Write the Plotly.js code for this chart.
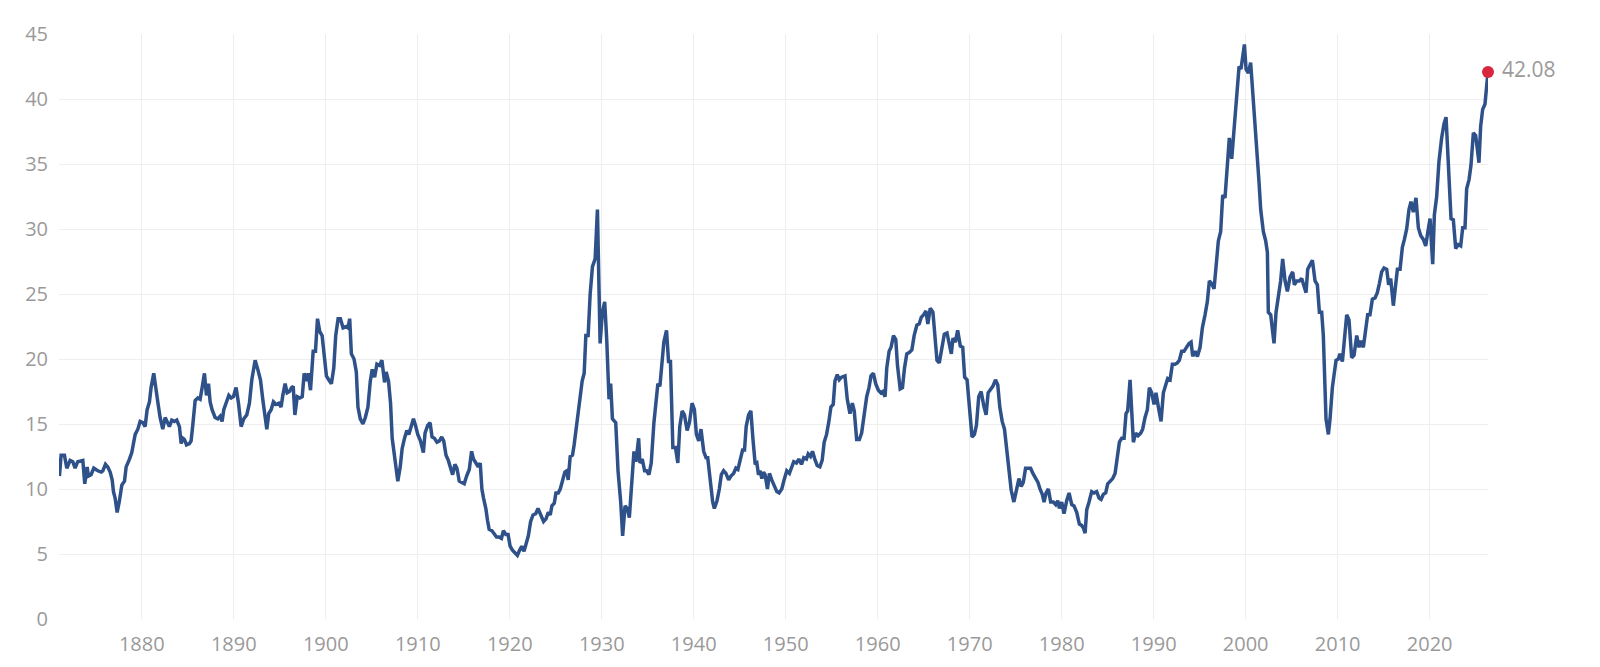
<!DOCTYPE html>
<html>
<head>
<meta charset="utf-8">
<script src="https://cdn.plot.ly/plotly-3.0.1.min.js"></script>
<style>
  html, body { margin: 0; padding: 0; background: #fff; }
  #chart { width: 1600px; height: 667px; }
</style>
</head>
<body>
<div id="chart"></div>
<script>
// Shiller P/E (CAPE), decimal years
var anos1871 = [1871.05,1871.23,1871.59,1871.85,1872.21,1872.5,1872.75,1873.04,1873.59,1873.8,
  1874.06,1874.2,1874.49,1874.78,1875.22,1875.58,1875.76,1876.05,1876.3,1876.56,
  1876.78,1876.92,1877.1,1877.32,1877.57,1877.83,1878.12,1878.3,1878.66,1878.91,
  1879.28,1879.57,1879.82,1880.11,1880.36,1880.58,1880.83,1881.01,1881.3,1881.49,
  1881.74,1881.99,1882.28,1882.54,1882.72,1883.0,1883.26,1883.55,1883.8,1884.09,
  1884.28,1884.46,1884.64,1884.86,1885.18,1885.36,1885.54,1885.8,1886.09,1886.34,
  1886.56,1886.81,1887.03,1887.25,1887.43,1887.64,1887.97,1888.26,1888.51,1888.73,
  1888.91,1889.17,1889.46,1889.71,1889.96,1890.25,1890.51,1890.8,1891.09,1891.41,
  1891.7,1891.96,1892.32,1892.61,1892.9,1893.15,1893.41,1893.59,1893.8,1894.06,
  1894.31,1894.6,1894.89,1895.14,1895.33,1895.58,1895.8,1896.05];
var cape1871 = [11.0,12.6,12.6,11.6,12.2,12.1,11.6,12.1,12.2,10.4,
  11.7,11.0,11.1,11.6,11.4,11.3,11.4,11.9,11.7,11.3,
  10.7,9.8,9.3,8.2,9.1,10.3,10.6,11.7,12.3,12.8,
  14.2,14.6,15.2,15.1,14.8,16.1,16.7,17.8,18.9,17.7,
  16.7,15.5,14.6,15.5,15.2,14.8,15.3,15.2,15.3,14.8,
  13.5,13.9,13.8,13.4,13.5,13.7,14.9,16.8,17.0,16.9,
  17.8,18.9,17.2,18.1,16.7,16.1,15.5,15.4,15.6,15.2,
  16.1,16.7,17.2,17.0,17.1,17.8,16.6,14.8,15.4,15.7,
  16.6,18.4,19.9,19.2,18.4,16.9,15.4,14.6,15.8,16.1,
  16.7,16.5,16.6,16.3,17.2,18.1,17.4,17.5];

var anos1896 = [1896.28,1896.46,1896.64,1896.9,1897.18,1897.44,1897.65,1897.91,1898.09,1898.34,
  1898.63,1898.88,1899.1,1899.35,1899.6,1899.82,1900.07,1900.32,1900.61,1900.87,
  1901.08,1901.34,1901.59,1901.88,1902.24,1902.42,1902.6,1902.78,1903.07,1903.32,
  1903.5,1903.75,1904.04,1904.3,1904.58,1904.84,1905.05,1905.31,1905.56,1905.85,
  1906.1,1906.39,1906.57,1906.82,1907.04,1907.22,1907.47,1907.65,1907.83,1908.09,
  1908.3,1908.56,1908.81,1909.03,1909.28,1909.53,1909.75,1910.0,1910.29,1910.61,
  1910.79,1911.08,1911.34,1911.55,1911.81,1912.09,1912.35,1912.6,1912.82,1913.07,
  1913.32,1913.54,1913.79,1914.04,1914.26,1914.51,1914.77,1915.05,1915.31,1915.6,
  1915.85,1916.06,1916.32,1916.57,1916.79,1916.97,1917.15,1917.4,1917.58,1917.76,
  1918.05,1918.3,1918.56,1918.84,1919.1,1919.31,1919.57,1919.82,1920.04,1920.29,
  1920.54,1920.83,1921.08,1921.3,1921.55,1921.81,1922.02,1922.27,1922.53,1922.82,
  1923.07];
var cape1896 = [17.8,17.9,15.7,17.1,17.0,17.1,18.9,18.3,18.9,17.6,
  20.6,20.6,23.1,22.1,21.8,20.4,18.7,18.4,18.1,19.3,
  21.8,23.1,23.1,22.4,22.5,22.4,23.1,20.4,20.0,19.0,
  16.3,15.4,15.0,15.5,16.3,18.3,19.2,18.6,19.6,19.5,
  19.9,18.2,19.0,18.3,16.6,13.9,12.6,11.4,10.6,11.7,
  13.1,13.9,14.5,14.2,14.9,15.4,14.9,14.2,13.7,12.8,
  14.3,14.9,15.1,14.0,13.9,13.6,13.7,14.0,13.7,12.6,
  12.2,11.7,11.1,11.9,11.6,10.6,10.5,10.4,11.0,11.5,
  12.9,12.3,12.0,11.7,12.0,10.0,9.3,8.5,7.6,6.9,
  6.8,6.5,6.3,6.3,6.2,6.8,6.5,6.5,5.6,5.3,
  5.1,4.9,5.3,5.6,5.2,5.9,6.4,7.5,8.0,8.1,
  8.5];

var anos1923 = [1923.68,1923.94,1924.19,1924.4,1924.58,1924.84,1925.02,1925.27,1925.49,1925.74,
  1925.99,1926.21,1926.35,1926.57,1926.82,1927.0,1927.18,1927.44,1927.65,1927.87,
  1928.09,1928.27,1928.52,1928.74,1928.99,1929.28,1929.53,1929.71,1929.82,1930.07,
  1930.32,1930.54,1930.79,1930.97,1931.16,1931.52,1931.77,1932.06,1932.27,1932.53,
  1932.78,1933.0,1933.25,1933.5,1933.72,1934.01,1934.15,1934.4,1934.66,1934.87,
  1935.13,1935.38,1935.67,1935.92,1936.1,1936.32,1936.57,1936.75,1937.04,1937.26,
  1937.47,1937.73,1938.01,1938.27,1938.48,1938.74,1938.99,1939.28,1939.53,1939.82,
  1940.07,1940.29,1940.54,1940.79,1941.08,1941.34,1941.52,1941.8,1942.06,1942.24,
  1942.53,1942.78,1943.0,1943.25,1943.5,1943.79,1944.04,1944.33,1944.58,1944.8,
  1945.05,1945.31,1945.52,1945.7,1945.96,1946.21,1946.43,1946.68,1946.86,1947.04,
  1947.22,1947.4,1947.58,1947.76,1948.01,1948.23,1948.48,1948.74,1949.03,1949.28,
  1949.57,1949.82,1950.11,1950.4];
var cape1923 = [7.5,7.7,8.2,8.0,8.7,8.9,9.7,9.7,10.0,10.8,
  11.3,11.4,10.7,12.5,12.6,13.4,14.5,16.0,17.4,18.3,
  18.9,21.8,21.8,25.0,27.1,27.7,31.5,26.0,21.2,23.6,
  24.4,21.5,16.9,18.1,15.4,15.1,11.4,9.0,6.4,8.7,
  8.5,7.8,10.5,12.9,12.1,13.9,12.0,12.3,11.4,11.4,
  11.1,12.0,15.1,16.6,18.1,17.9,19.9,21.3,22.2,19.8,
  19.8,13.2,13.2,12.0,14.8,16.0,15.7,14.5,15.1,16.6,
  16.1,14.2,13.7,14.6,12.9,12.4,12.4,10.5,9.0,8.5,
  9.1,10.0,11.1,11.4,11.2,10.7,11.0,11.2,11.6,11.5,
  12.3,13.0,13.0,14.8,15.7,16.0,13.9,11.9,12.0,11.1,
  11.4,10.8,11.3,11.1,10.0,11.2,10.7,10.2,9.8,9.7,
  10.0,10.7,11.4,11.2];

var anos1950 = [1950.87,1951.16,1951.42,1951.71,1951.96,1952.25,1952.44,1952.69,1952.91,1953.16,
  1953.42,1953.71,1953.96,1954.18,1954.44,1954.69,1954.91,1955.16,1955.35,1955.6,
  1955.82,1956.07,1956.44,1956.69,1956.98,1957.24,1957.45,1957.71,1958.0,1958.25,
  1958.51,1958.8,1959.05,1959.27,1959.53,1959.78,1960.07,1960.33,1960.55,1960.8,
  1960.98,1961.24,1961.45,1961.71,1961.96,1962.15,1962.44,1962.69,1962.91,1963.16,
  1963.42,1963.71,1963.96,1964.25,1964.51,1964.73,1964.98,1965.24,1965.45,1965.71,
  1966.0,1966.18,1966.44,1966.69,1966.98,1967.24,1967.53,1967.78,1968.0,1968.18,
  1968.44,1968.69,1968.98,1969.24,1969.45,1969.71,1970.0,1970.25,1970.51,1970.73,
  1970.98,1971.24,1971.53,1971.78,1972.0,1972.25,1972.51,1972.8,1973.05,1973.27,
  1973.53,1973.78,1974.0,1974.25,1974.51,1974.8,1975.05,1975.35,1975.6,1975.82,
  1976.07,1976.33,1976.62,1976.87,1977.16,1977.42,1977.64,1977.89];
var cape1950 = [12.1,12.0,12.3,11.9,12.4,12.3,12.7,12.5,12.9,12.3,
  11.8,11.7,12.2,13.6,14.2,15.2,16.3,16.5,18.3,18.8,
  18.4,18.6,18.7,16.9,15.8,16.6,16.0,13.8,13.8,14.3,
  15.7,17.1,17.8,18.7,18.9,18.1,17.6,17.4,17.5,17.1,
  19.3,20.6,20.9,21.8,21.5,19.5,17.7,17.8,19.3,20.4,
  20.5,20.7,21.8,22.6,22.7,23.2,23.4,23.7,22.7,23.9,
  23.6,22.1,19.9,19.7,21.1,21.9,22.0,21.2,20.4,21.6,
  21.3,22.2,21.0,20.9,18.6,18.4,16.0,14.0,14.2,14.9,
  17.1,17.5,16.4,15.7,17.4,17.6,17.9,18.4,18.0,16.3,
  15.2,14.6,13.1,12.0,9.9,9.0,9.7,10.8,10.2,10.5,
  11.6,11.6,11.6,11.2,10.8,10.5,10.0,9.6];

var anos1978 = [1978.08,1978.3,1978.55,1978.8,1979.09,1979.35,1979.57,1979.75,1980.0,1980.25,
  1980.54,1980.8,1981.09,1981.34,1981.63,1981.92,1982.17,1982.36,1982.54,1982.72,
  1982.97,1983.26,1983.51,1983.8,1984.06,1984.28,1984.53,1984.78,1985.0,1985.33,
  1985.54,1985.8,1986.05,1986.27,1986.52,1986.78,1986.99,1987.17,1987.43,1987.64,
  1987.79,1988.04,1988.3,1988.59,1988.8,1989.06,1989.31,1989.53,1989.78,1990.04,
  1990.25,1990.51,1990.8,1991.05,1991.3,1991.52,1991.78,1992.03,1992.32,1992.57,
  1992.79,1993.04,1993.3,1993.59,1993.84,1994.06,1994.24,1994.49,1994.75,1995.04,
  1995.29,1995.58,1995.83,1996.05,1996.3,1996.56,1996.78,1997.03,1997.28,1997.5,
  1997.75,1998.01,1998.22,1998.48,1998.73,1999.02,1999.28,1999.49,1999.67,1999.86,
  2000.04,2000.29,2000.54,2000.76,2000.94,2001.2,2001.45,2001.63,2001.92,2002.17,
  2002.36,2002.46,2002.72,2002.93,2003.08,2003.3,2003.55,2003.8,2004.02,2004.28,
  2004.53];
var cape1978 = [9.0,9.7,10.0,9.0,9.0,8.8,9.1,8.5,9.0,8.1,
  9.1,9.7,8.8,8.7,8.2,7.3,7.2,7.0,6.6,8.4,
  9.0,9.8,9.7,9.8,9.3,9.2,9.6,9.7,10.4,10.7,
  10.8,11.2,12.3,13.6,13.9,13.9,15.8,16.0,18.4,14.6,
  13.6,14.3,14.1,14.3,14.6,15.5,16.1,17.8,17.4,16.5,
  17.4,16.3,15.2,17.4,18.1,18.5,18.4,19.6,19.6,19.7,
  19.9,20.6,20.6,20.9,21.2,21.3,20.2,20.6,20.2,20.9,
  22.4,23.4,24.4,26.0,25.8,25.4,27.5,29.1,29.8,32.6,
  32.4,34.9,37.0,35.4,37.5,40.5,42.5,42.3,43.1,44.2,
  42.3,42.0,42.8,40.7,38.1,35.8,33.6,31.5,29.8,29.1,
  28.2,23.6,23.4,22.1,21.2,23.6,24.8,26.0,27.7,26.0,
  25.2];

var anos2004 = [2004.82,2005.11,2005.29,2005.54,2005.83,2006.09,2006.34,2006.56,2006.74,2006.99,
  2007.25,2007.54,2007.79,2008.01,2008.26,2008.44,2008.62,2008.73,2008.99,2009.17,
  2009.42,2009.64,2009.82,2010.07,2010.25,2010.51,2010.72,2010.98,2011.23,2011.52,
  2011.78,2012.07,2012.32,2012.54,2012.79,2013.04,2013.26,2013.51,2013.77,2014.06,
  2014.31,2014.53,2014.78,2015.04,2015.33,2015.54,2015.76,2016.05,2016.23,2016.49,
  2016.78,2017.03,2017.25,2017.5,2017.75,2017.97,2018.22,2018.51,2018.77,2019.02,
  2019.31,2019.57,2019.78,2020.04,2020.33,2020.51,2020.76,2021.01,2021.3,2021.56,
  2021.78,2022.03,2022.32,2022.57,2022.83,2023.12,2023.37,2023.59,2023.84,2024.02,
  2024.28,2024.49,2024.75,2025.0,2025.18,2025.36,2025.54,2025.76,2026.01,2026.12,
  2026.34];
var cape2004 = [26.3,26.7,25.7,26.0,26.0,26.2,25.6,25.1,26.9,27.3,
  27.6,26.0,25.7,23.6,23.6,21.8,18.7,15.4,14.2,15.4,
  17.8,19.0,19.9,20.0,20.4,19.8,21.5,23.4,23.0,20.1,
  20.3,21.8,20.9,21.4,20.9,22.1,23.4,23.4,24.6,24.7,
  25.1,25.8,26.7,27.0,26.9,25.7,26.2,24.1,25.4,26.9,
  26.9,28.6,29.2,30.0,31.5,32.1,31.3,32.4,30.1,29.5,
  29.2,28.7,29.7,30.8,27.3,31.1,32.5,35.2,37.0,38.1,
  38.6,34.9,30.8,30.7,28.5,28.8,28.7,30.1,30.1,33.1,
  33.8,34.9,37.4,37.2,36.1,35.1,37.9,39.2,39.6,40.7,
  42.08];

var anosTicks = [1880, 1890, 1900, 1910, 1920, 1930, 1940, 1950, 1960, 1970, 1980, 1990, 2000, 2010, 2020];
var capeTicks = [0, 5, 10, 15, 20, 25, 30, 35, 40, 45];

var anos = anos1871.concat(anos1896, anos1923, anos1950, anos1978, anos2004);
var cape = cape1871.concat(cape1896, cape1923, cape1950, cape1978, cape2004);

var ultimoAno = anos[anos.length - 1];
var ultimoValor = cape[cape.length - 1];

var linha = {
  x: anos, y: cape,
  type: 'scatter',
  mode: 'lines',
  line: {color: '#2f5189', width: 3.5},
  hoverinfo: 'skip'
};

var ponto = {
  x: [ultimoAno], y: [ultimoValor],
  type: 'scatter',
  mode: 'markers+text',
  marker: {color: '#d7263d', size: 12},
  text: ['\u00a0' + ultimoValor.toFixed(2)],
  textposition: 'middle right',
  textfont: {family: 'Open Sans, sans-serif', size: 21, color: '#9a9a9a'},
  cliponaxis: false,
  hoverinfo: 'skip'
};

var layout = {
  width: 1600,
  height: 667,
  margin: {l: 59, r: 112, t: 34, b: 48},
  paper_bgcolor: '#ffffff',
  plot_bgcolor: '#ffffff',
  showlegend: false,
  xaxis: {
    range: [1871.0, ultimoAno],
    tickmode: 'array',
    tickvals: anosTicks,
    ticktext: anosTicks.map(String),
    showgrid: true,
    gridcolor: '#eeeeee',
    gridwidth: 1,
    zeroline: false,
    showline: false,
    ticks: '',
    ticklabelstandoff: 11,
    tickfont: {family: 'Open Sans, sans-serif', size: 20, color: '#9a9a9a'},
    fixedrange: true
  },
  yaxis: {
    range: [0, 45],
    tickmode: 'array',
    tickvals: capeTicks,
    ticktext: capeTicks.map(String),
    showgrid: true,
    gridcolor: '#eeeeee',
    gridwidth: 1,
    zeroline: false,
    showline: false,
    ticks: '',
    ticklabelstandoff: 10,
    tickfont: {family: 'Open Sans, sans-serif', size: 20, color: '#9a9a9a'},
    fixedrange: true
  }
};

Plotly.newPlot('chart', [linha, ponto], layout, {displayModeBar: false, staticPlot: true});
</script>
</body>
</html>
